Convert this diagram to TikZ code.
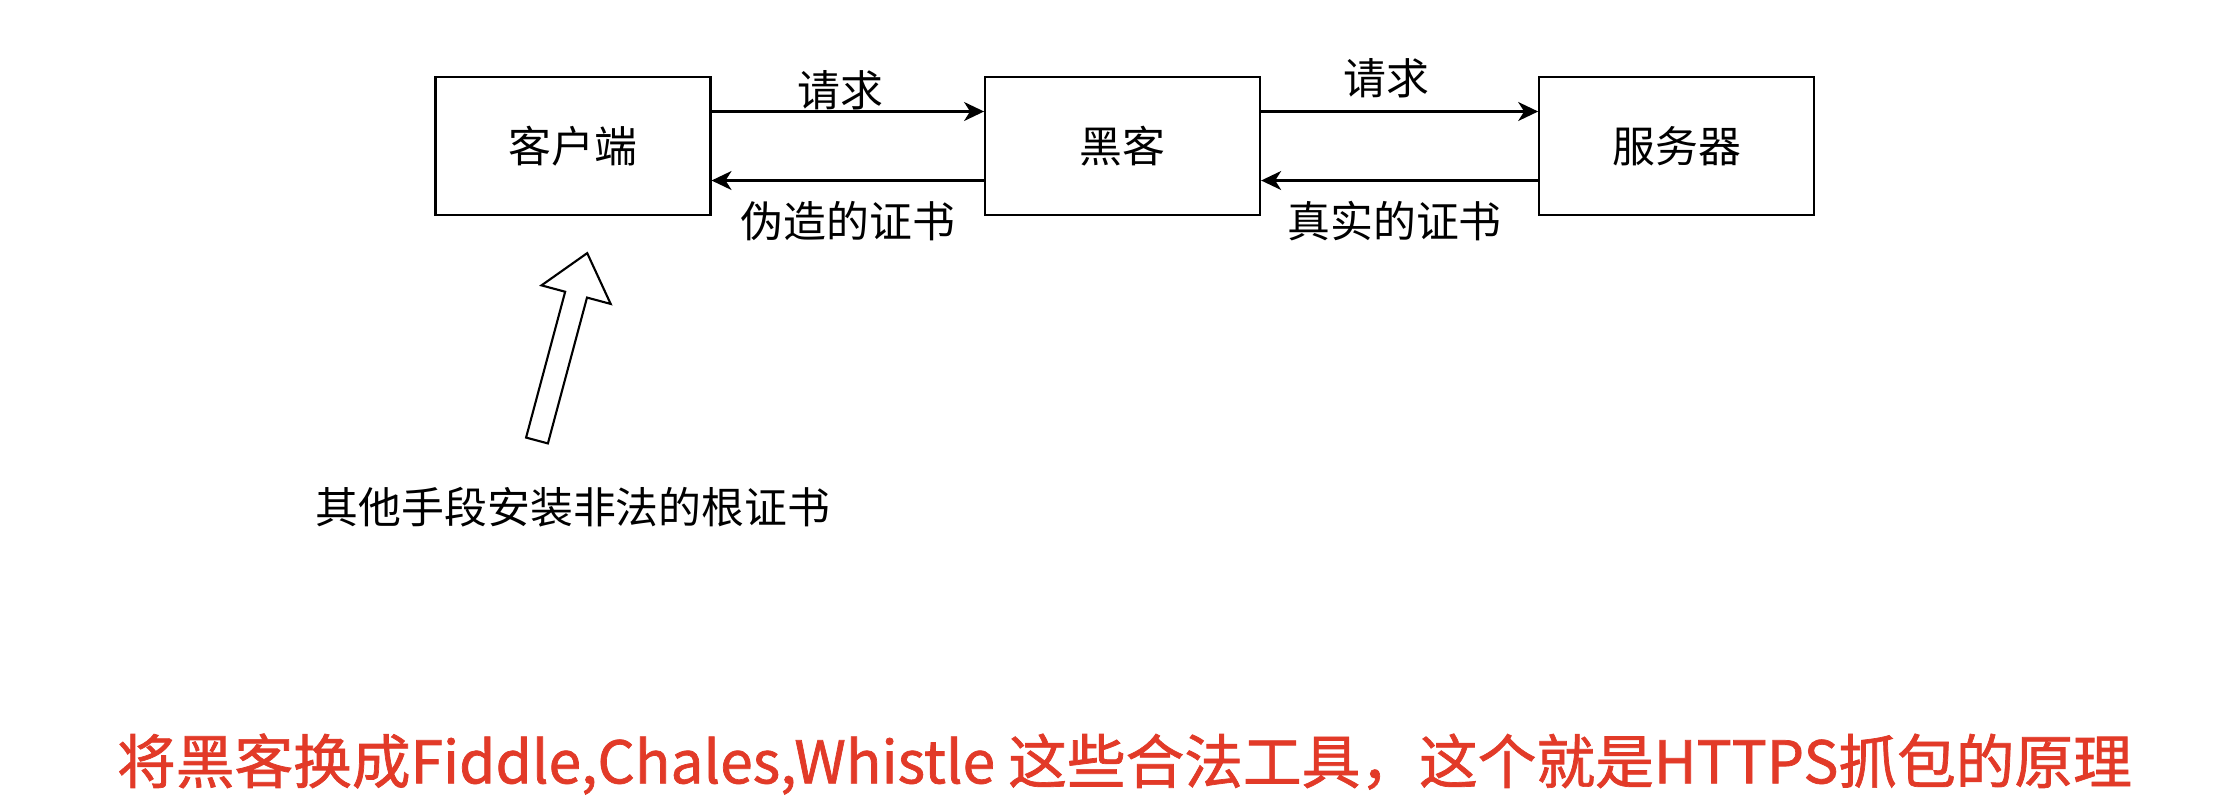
\documentclass[tikz,border=0pt]{standalone}
\usepackage{fontspec}
\setmainfont{Noto Sans CJK SC}
\newfontfamily\notefont{Noto Sans CJK SC}[FakeBold=1.2]
\usetikzlibrary{positioning,arrows.meta}
\definecolor{notered}{RGB}{226,58,40}

\begin{document}
\begin{tikzpicture}[
        box/.style={draw=black, line width=0.6pt, minimum width=2.75cm, minimum height=1.38cm, inner sep=0pt, font=\fontsize{12.2}{14}\selectfont},
        lbl/.style={inner sep=0pt, font=\fontsize{12.2}{14}\selectfont},
        link/.style={line width=0.6pt, -{Stealth[length=0.2cm, width=0.19cm, inset=0.06cm]}},
        hollow/.style={draw=black, line width=0.6pt, fill=white, line join=miter},
    ]
    \fill[white] (0,0) rectangle (22.14,-8.08);
    \useasboundingbox (0,0) rectangle (22.14,-8.08);
    % the three parties
    \node[box] (client) at (5.73,-1.46) {客户端};
    \node[box, right=2.725cm of client] (hacker) {黑客};
    \node[box, right=2.77cm of hacker] (server) {服务器};
    % requests going right
    \draw[link] ([yshift=0.345cm]client.east) -- ([yshift=0.345cm]hacker.west)
        node[lbl, midway, above=0pt, xshift=-0.07cm] {请求};
    \draw[link] ([yshift=0.345cm]hacker.east) -- ([yshift=0.345cm]server.west)
        node[lbl, midway, above=0.12cm, xshift=-0.13cm] {请求};
    % certificates coming back
    \draw[link] ([yshift=-0.345cm]hacker.west) -- ([yshift=-0.345cm]client.east)
        node[lbl, midway, below=0.2cm] {伪造的证书};
    \draw[link] ([yshift=-0.345cm]server.west) -- ([yshift=-0.345cm]hacker.east)
        node[lbl, midway, below=0.2cm, xshift=-0.05cm] {真实的证书};
    % root certificate hint
    \node[lbl, below=2.7cm of client] (rootca) {其他手段安装非法的根证书};
    \coordinate (tail) at (5.37,-4.405);
    \begin{scope}[shift={(tail)}, rotate=75]
        \draw[hollow] (0,-0.113) -- (1.51,-0.113) -- (1.51,-0.358) -- (1.94,0)
            -- (1.51,0.358) -- (1.51,0.113) -- (0,0.113) -- cycle;
    \end{scope}
    % note at the bottom
    \node[inner sep=0pt, text=notered, font=\notefont\fontsize{16.7}{20}\selectfont] (note) at (11.245,-7.64)
        {将黑客换成Fiddle,Chales,Whistle 这些合法工具，这个就是HTTPS抓包的原理};
\end{tikzpicture}
\end{document}
